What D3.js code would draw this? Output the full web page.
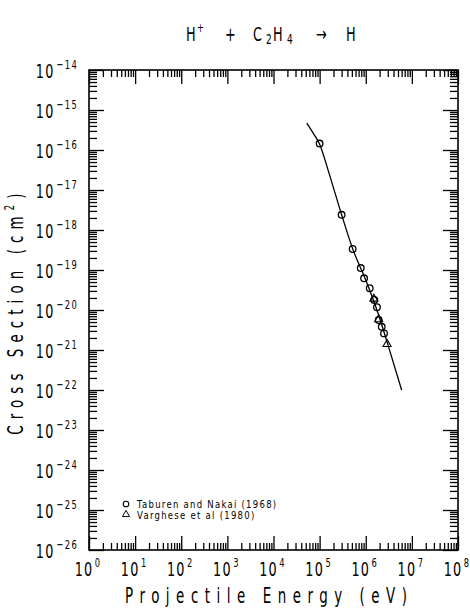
<!DOCTYPE html>
<html>
<head>
<meta charset="utf-8">
<script src="https://cdn.jsdelivr.net/npm/d3@7"></script>
<style>
  body { margin: 0; background: #fff; }
  svg { display: block; }
  text { font-family: "DejaVu Sans", sans-serif; fill: #000; }
</style>
</head>
<body>
<div id="chart"></div>
<script>
// Taburen and Nakai (1968)
const taburenE = [1.0e5, 3.0e5, 5.2e5, 7.8e5, 9.2e5, 1.22e6, 1.53e6, 1.75e6, 1.91e6, 2.22e6, 2.49e6];
const taburenSigma = [1.45e-16, 2.4e-18, 3.35e-19, 1.12e-19, 6.2e-20, 3.5e-20, 1.78e-20, 1.17e-20, 5.6e-21, 3.8e-21, 2.6e-21];
// Varghese et al (1980)
const vargheseE = [1.5e6, 1.9e6, 2.9e6];
const vargheseSigma = [1.9e-20, 5.8e-21, 1.4e-21];
// fitted curve
const fitE = [5.25e4, 7.3e4, 1.0e5, 1.62e5, 3.0e5, 5.2e5, 1.0e6, 1.8e6, 3.0e6, 6.0e6];
const fitSigma = [4.7e-16, 2.6e-16, 1.4e-16, 2.5e-17, 2.4e-18, 3.4e-19, 5.6e-20, 9.0e-21, 1.4e-21, 1.0e-22];

const xExp = [0, 1, 2, 3, 4, 5, 6, 7, 8];
const yExp = [-26, -25, -24, -23, -22, -21, -20, -19, -18, -17, -16, -15, -14];
const legendLabels = ['Taburen and Nakai (1968)', 'Varghese et al (1980)'];

const W = 470, H = 611;
const margin = { top: 70, right: 12, bottom: 61, left: 89 };
const x0 = margin.left, x1 = W - margin.right;
const y0 = H - margin.bottom, y1 = margin.top;
const SX = 0.64; // horizontal squeeze, the original font is narrow

const svg = d3.select('#chart').append('svg')
    .attr('width', W)
    .attr('height', H);

const x = d3.scaleLog().domain([1, 1e8]).range([x0, x1]);
const y = d3.scaleLog().domain([1e-26, 1e-14]).range([y0, y1]);

// major and minor tick values
const xMajor = xExp.map(e => Math.pow(10, e));
const yMajor = yExp.map(e => Math.pow(10, e));
function minors(exps) {
    const out = [];
    for (let i = 0; i < exps.length - 1; i++) {
        for (let k = 2; k <= 9; k++) out.push(k * Math.pow(10, exps[i]));
    }
    return out;
}
const xMinor = minors(xExp);
const yMinor = minors(yExp);

function drawAxis(axisFn, scale, vals, size, transform) {
    const g = svg.append('g')
        .attr('transform', transform)
        .call(axisFn(scale).tickValues(vals).tickSize(size).tickFormat(''));
    g.select('.domain').remove();
    g.selectAll('line').attr('stroke', '#000').attr('stroke-width', 1.3);
}

// ticks pointing inward on all four sides
drawAxis(d3.axisBottom, x, xMajor, -14, `translate(0,${y0})`);
drawAxis(d3.axisBottom, x, xMinor, -7, `translate(0,${y0})`);
drawAxis(d3.axisTop, x, xMajor, -14, `translate(0,${y1})`);
drawAxis(d3.axisTop, x, xMinor, -7, `translate(0,${y1})`);
drawAxis(d3.axisLeft, y, yMajor, -15, `translate(${x0},0)`);
drawAxis(d3.axisLeft, y, yMinor, -8, `translate(${x0},0)`);
drawAxis(d3.axisRight, y, yMajor, -15, `translate(${x1},0)`);
drawAxis(d3.axisRight, y, yMinor, -8, `translate(${x1},0)`);

// frame
svg.append('rect')
    .attr('x', x0).attr('y', y1)
    .attr('width', x1 - x0).attr('height', y0 - y1)
    .attr('fill', 'none')
    .attr('stroke', '#000')
    .attr('stroke-width', 1.6);

// x tick labels
const xl = svg.append('g').selectAll('g')
    .data(xExp)
    .enter()
    .append('g')
    .attr('transform', d => `translate(${x(Math.pow(10, d)) - 1},${y0 + 26}) scale(${SX},1)`)
    .append('text')
    .attr('text-anchor', 'middle')
    .style('font-size', '20px')
    .style('letter-spacing', '2px');
xl.append('tspan').text('10');
xl.append('tspan').attr('dy', -9).attr('dx', 2).style('font-size', '13px').text(d => d);

// y tick labels
const yl = svg.append('g').selectAll('g')
    .data(yExp)
    .enter()
    .append('g')
    .attr('transform', d => `translate(${x0 - 11},${y(Math.pow(10, d)) + 8}) scale(${SX},1)`)
    .append('text')
    .attr('text-anchor', 'end')
    .style('font-size', '20px')
    .style('letter-spacing', '2px');
yl.append('tspan').text('10');
yl.append('tspan').attr('dy', -9).attr('dx', 3).style('font-size', '13px').text(d => '\u2212' + Math.abs(d));

// title, pieces placed along the baseline
function piece(str, px, dy, size) {
    svg.append('g')
        .attr('transform', `translate(${px},${41 + dy}) scale(${SX},1)`)
        .append('text')
        .style('font-size', size + 'px')
        .text(str);
}
piece('H', 186, 0, 20);
piece('+', 197, -9, 13);
piece('+', 225, 0, 20);
piece('C', 253, 0, 20);
piece('2', 266, 3, 14);
piece('H', 273, 0, 20);
piece('4', 287, 3, 14);
piece('\u2192', 316, 0, 20);
piece('H', 346, 0, 20);

// axis titles
svg.append('g')
    .attr('transform', `translate(266,603) scale(${SX},1)`)
    .append('text')
    .attr('text-anchor', 'middle')
    .attr('textLength', 282 / SX)
    .attr('lengthAdjust', 'spacing')
    .style('font-size', '21px')
    .text('Projectile Energy (eV)');

const yt = svg.append('g')
    .attr('transform', `translate(23,${(y0 + y1) / 2 + 1}) rotate(-90) scale(${SX},1)`)
    .append('text')
    .attr('text-anchor', 'middle')
    .style('font-size', '21px')
    .style('letter-spacing', '9.5px');
yt.append('tspan').text('Cross Section (cm');
yt.append('tspan').attr('dy', -9).style('font-size', '14px').text('2');
yt.append('tspan').attr('dy', 9).text(')');

// fitted curve
const fit = fitE.map((e, i) => [e, fitSigma[i]]);
svg.append('path')
    .datum(fit)
    .attr('fill', 'none')
    .attr('stroke', '#000')
    .attr('stroke-width', 1.3)
    .attr('d', d3.line()
        .x(d => x(d[0]))
        .y(d => y(d[1]))
        .curve(d3.curveMonotoneX));

// Taburen and Nakai points
svg.append('g').selectAll('circle')
    .data(taburenE.map((e, i) => [e, taburenSigma[i]]))
    .enter()
    .append('circle')
    .attr('cx', d => x(d[0]))
    .attr('cy', d => y(d[1]))
    .attr('r', 3.3)
    .attr('fill', 'none')
    .attr('stroke', '#000')
    .attr('stroke-width', 1.3);

// Varghese points
const tri = d3.symbol().type(d3.symbolTriangle).size(28);
svg.append('g').selectAll('path')
    .data(vargheseE.map((e, i) => [e, vargheseSigma[i]]))
    .enter()
    .append('path')
    .attr('transform', d => `translate(${x(d[0])},${y(d[1])})`)
    .attr('d', tri)
    .attr('fill', 'none')
    .attr('stroke', '#000')
    .attr('stroke-width', 1.1);

// legend
const lg = svg.append('g');
lg.append('circle')
    .attr('cx', 126).attr('cy', 504)
    .attr('r', 2.8)
    .attr('fill', 'none').attr('stroke', '#000').attr('stroke-width', 1.1);
lg.append('path')
    .attr('transform', 'translate(126,514.5)')
    .attr('d', d3.symbol().type(d3.symbolTriangle).size(22))
    .attr('fill', 'none').attr('stroke', '#000').attr('stroke-width', 1);
lg.selectAll('g')
    .data(legendLabels)
    .enter()
    .append('g')
    .attr('transform', (d, i) => `translate(137,${508 + i * 10.5}) scale(0.85,1)`)
    .append('text')
    .style('font-size', '10px')
    .style('letter-spacing', '1.5px')
    .text(d => d);
</script>
</body>
</html>
